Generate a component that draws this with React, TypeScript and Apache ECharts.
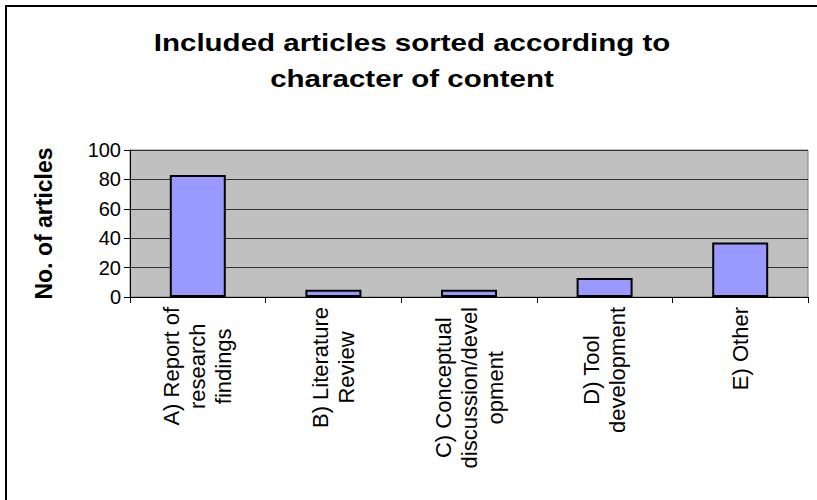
import React, { useEffect, useRef } from "react";
import * as echarts from "echarts";

const categories = [
  "A) Report of\nresearch\nfindings",
  "B) Literature\nReview",
  "C) Conceptual\ndiscussion/devel\nopment",
  "D) Tool\ndevelopment",
  "E) Other",
];
const values = [83, 5, 5, 13, 37];
const yTicks = { min: 0, max: 100, interval: 20 };
const titleLines = ["Included articles sorted according to", "character of content"];
const yName = "No. of articles";

const FONT = '"Liberation Sans", Arial, Helvetica, sans-serif';

export default function App() {
  const ref = useRef<HTMLDivElement>(null);
  useEffect(() => {
    if (!ref.current) return;
    const chart = echarts.init(ref.current, null, { renderer: "svg" });
    const titleStyle = {
      fontFamily: FONT,
      fontWeight: "bold",
      fontSize: 24,
      align: "center",
      verticalAlign: "middle",
      fill: "#000",
    };
    chart.setOption({
      animation: false,
      backgroundColor: "#ffffff",
      textStyle: { fontFamily: FONT, color: "#000" },
      grid: {
        left: 130,
        top: 150,
        width: 678,
        height: 147,
        show: true,
        backgroundColor: "#C0C0C0",
        borderColor: "#808080",
        borderWidth: 1,
        containLabel: false,
      },
      graphic: [
        {
          type: "rect",
          silent: true,
          z: 100,
          shape: { x: 6, y: 6, width: 840, height: 540 },
          style: { fill: "rgba(0,0,0,0)", stroke: "#000", lineWidth: 2 },
        },
        {
          type: "group",
          x: 412,
          y: 0,
          scaleX: 1.23,
          children: [
            { type: "text", x: 0, y: 43, style: { ...titleStyle, text: titleLines[0] } },
            { type: "text", x: 0, y: 79, style: { ...titleStyle, text: titleLines[1] } },
          ],
        },
      ],
      xAxis: {
        type: "category",
        data: categories,
        axisLine: { show: true, lineStyle: { color: "#000", width: 1 } },
        axisTick: { show: true, alignWithLabel: false, length: 6, lineStyle: { color: "#000" } },
        splitLine: { show: false },
        axisLabel: {
          interval: 0,
          rotate: 90,
          margin: 10,
          color: "#000",
          fontSize: 22,
          fontFamily: FONT,
          formatter: (v: string) =>
            v
              .split("\n")
              .map((s) => `{c|${s}}`)
              .join("\n"),
          rich: {
            c: { align: "center", fontSize: 22, lineHeight: 26, fontFamily: FONT, color: "#000" },
          },
        },
      },
      yAxis: {
        type: "value",
        min: yTicks.min,
        max: yTicks.max,
        interval: yTicks.interval,
        name: yName,
        nameLocation: "middle",
        nameGap: 75,
        nameTextStyle: { fontSize: 23, fontWeight: "bold", color: "#000", fontFamily: FONT },
        axisLine: { show: true, lineStyle: { color: "#000", width: 1 } },
        axisTick: { show: true, length: 6, lineStyle: { color: "#000" } },
        splitLine: { show: true, lineStyle: { color: "#333", width: 1 } },
        axisLabel: { color: "#000", fontSize: 20, margin: 9, fontFamily: FONT },
      },
      series: [
        {
          type: "bar",
          data: values,
          barWidth: 56,
          itemStyle: { color: "#9999FF", borderColor: "#000", borderWidth: 2 },
        },
      ],
    });
    return () => chart.dispose();
  }, []);
  return (
    <div
      ref={ref}
      style={{ position: "fixed", left: 0, top: 0, width: 817, height: 500, background: "#fff" }}
    />
  );
}
